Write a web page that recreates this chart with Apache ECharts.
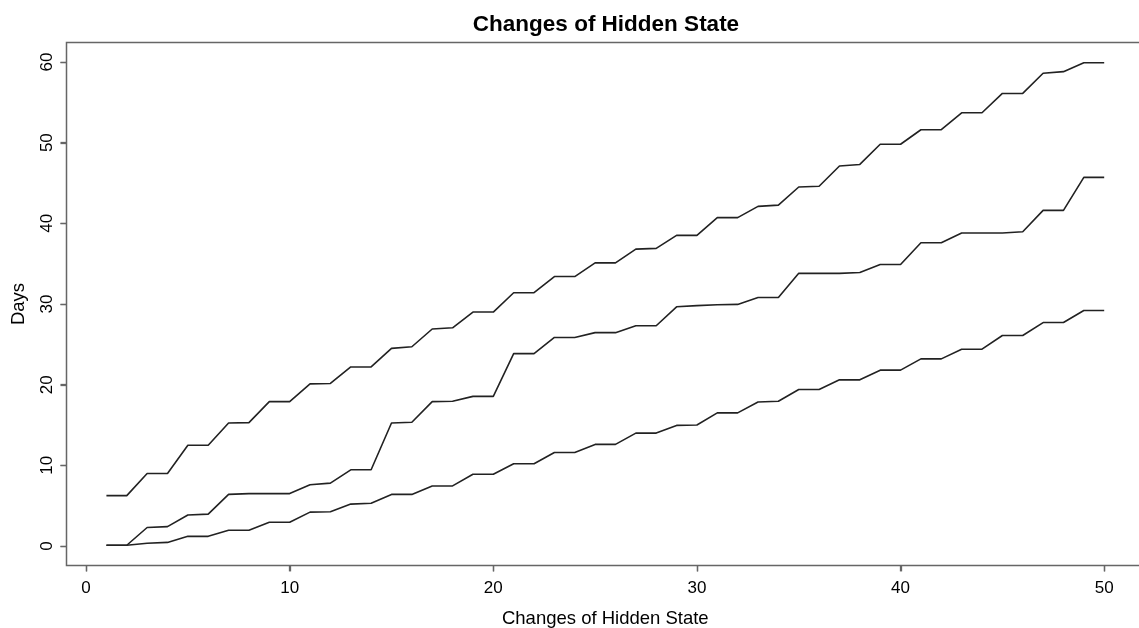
<!DOCTYPE html>
<html>

<head>
    <meta charset="UTF-8">
    <title>Changes of Hidden State</title>
    <script src="https://cdn.jsdelivr.net/npm/echarts@6/dist/echarts.min.js"></script>
    <style>
        html, body {
            margin: 0;
            padding: 0;
            overflow: hidden;
            background-color: #ffffff;
        }

        #chart {
            width: 1139px;
            height: 628px;
        }
    </style>
</head>

<body>
    <div id="chart"></div>
</body>
<script>
    // changes of hidden state (x) and the three day curves
    var changes = [1, 2, 3, 4, 5, 6, 7, 8, 9, 10, 11, 12, 13, 14, 15, 16, 17, 18, 19, 20,
        21, 22, 23, 24, 25, 26, 27, 28, 29, 30, 31, 32, 33, 34, 35, 36, 37, 38, 39, 40,
        41, 42, 43, 44, 45, 46, 47, 48, 49, 50];

    var upperDays = [6.25, 6.25, 9.0, 9.0, 12.5, 12.5, 15.25, 15.3, 17.9, 17.9,
        20.1, 20.15, 22.2, 22.2, 24.5, 24.7, 26.9, 27.05, 29.0, 29.0,
        31.4, 31.4, 33.4, 33.4, 35.1, 35.1, 36.8, 36.9, 38.5, 38.5,
        40.7, 40.7, 42.1, 42.25, 44.5, 44.6, 47.1, 47.3, 49.8, 49.8,
        51.6, 51.6, 53.7, 53.7, 56.1, 56.1, 58.6, 58.8, 59.9, 59.9];

    var middleDays = [0.1, 0.1, 2.3, 2.4, 3.85, 3.95, 6.4, 6.5, 6.5, 6.5,
        7.6, 7.8, 9.45, 9.45, 15.25, 15.35, 17.9, 17.95, 18.55, 18.55,
        23.85, 23.85, 25.85, 25.85, 26.45, 26.45, 27.3, 27.3, 29.65, 29.8,
        29.9, 29.95, 30.8, 30.8, 33.8, 33.8, 33.8, 33.9, 34.9, 34.9,
        37.6, 37.6, 38.8, 38.8, 38.8, 38.95, 41.6, 41.6, 45.7, 45.7];

    var lowerDays = [0.1, 0.1, 0.35, 0.45, 1.2, 1.2, 1.95, 1.95, 2.95, 2.95,
        4.2, 4.25, 5.2, 5.3, 6.4, 6.4, 7.45, 7.45, 8.9, 8.9,
        10.2, 10.2, 11.6, 11.6, 12.6, 12.6, 14.0, 14.0, 14.95, 15.0,
        16.5, 16.5, 17.85, 17.95, 19.4, 19.4, 20.6, 20.6, 21.8, 21.8,
        23.2, 23.2, 24.4, 24.4, 26.1, 26.1, 27.7, 27.7, 29.2, 29.2];

    var xTicks = [0, 10, 20, 30, 40, 50];
    var yTicks = [0, 10, 20, 30, 40, 50, 60];

    function pairs(ys) {
        return changes.map(function (x, i) {
            return [x, ys[i]];
        });
    }

    var font = 'Liberation Sans, Arial, Helvetica, sans-serif';
    var boxColor = '#666666';
    var lineColor = '#222222';

    // axis limits, R style (data range padded by 4%)
    var xMin = -0.96, xMax = 51.96, yMin = -2.4, yMax = 62.4;
    var tickLen = 6;

    var chart = echarts.init(document.getElementById('chart'), null, { renderer: 'canvas' });

    function lineSeries(name, ys) {
        return {
            name: name,
            type: 'line',
            data: pairs(ys),
            symbol: 'none',
            lineStyle: { color: lineColor, width: 1.6 }
        };
    }

    var option = {
        backgroundColor: '#ffffff',
        animation: false,
        title: {
            text: 'Changes of Hidden State',
            left: 601,
            textAlign: 'center',
            top: 8,
            textStyle: {
                fontFamily: font,
                fontWeight: 'bold',
                fontSize: 22.5,
                color: '#000000'
            }
        },
        grid: {
            // the box runs past the right edge of the picture, as in the original
            left: 66.5,
            top: 42.6,
            width: 1077.6,
            height: 522.8,
            outerBoundsMode: 'none',
            containLabel: false,
            show: true,
            borderColor: boxColor,
            borderWidth: 1.5
        },
        xAxis: {
            type: 'value',
            min: xMin,
            max: xMax,
            name: 'Changes of Hidden State',
            nameLocation: 'middle',
            nameGap: 44,
            nameTextStyle: {
                fontFamily: font,
                fontSize: 18.5,
                color: '#000000'
            },
            splitLine: { show: false },
            axisLine: { show: false, onZero: false },
            axisTick: {
                show: true,
                length: tickLen,
                customValues: xTicks,
                lineStyle: { color: boxColor, width: 1.3 }
            },
            axisLabel: {
                customValues: xTicks,
                margin: 14,
                fontFamily: font,
                fontSize: 17,
                color: '#000000'
            }
        },
        yAxis: {
            type: 'value',
            min: yMin,
            max: yMax,
            name: 'Days',
            nameLocation: 'middle',
            nameRotate: 90,
            nameGap: 38,
            nameTextStyle: {
                fontFamily: font,
                fontSize: 18.5,
                color: '#000000'
            },
            splitLine: { show: false },
            axisLine: { show: false, onZero: false },
            axisTick: {
                show: true,
                length: tickLen,
                customValues: yTicks,
                lineStyle: { color: boxColor, width: 1.3 }
            },
            axisLabel: {
                customValues: yTicks,
                rotate: 90,
                margin: 11,
                fontFamily: font,
                fontSize: 17,
                color: '#000000'
            }
        },
        series: [
            lineSeries('upper', upperDays),
            lineSeries('middle', middleDays),
            lineSeries('lower', lowerDays)
        ]
    };

    chart.setOption(option);

    // tick marks outside the box, placed with the axis scales
    var boxBottom = chart.convertToPixel({ yAxisIndex: 0 }, yMin);
    var boxLeft = chart.convertToPixel({ xAxisIndex: 0 }, xMin);
    var tickMarks = [];
    xTicks.forEach(function (v) {
        var px = Math.round(chart.convertToPixel({ xAxisIndex: 0 }, v)) + 0.5;
        tickMarks.push({
            type: 'line',
            z: 100,
            shape: { x1: px, y1: boxBottom, x2: px, y2: boxBottom + tickLen },
            style: { stroke: boxColor, lineWidth: 1.3 },
            silent: true
        });
    });
    yTicks.forEach(function (v) {
        var py = Math.round(chart.convertToPixel({ yAxisIndex: 0 }, v)) + 0.5;
        tickMarks.push({
            type: 'line',
            z: 100,
            shape: { x1: boxLeft - tickLen, y1: py, x2: boxLeft, y2: py },
            style: { stroke: boxColor, lineWidth: 1.3 },
            silent: true
        });
    });
    chart.setOption({ graphic: tickMarks });
</script>

</html>
